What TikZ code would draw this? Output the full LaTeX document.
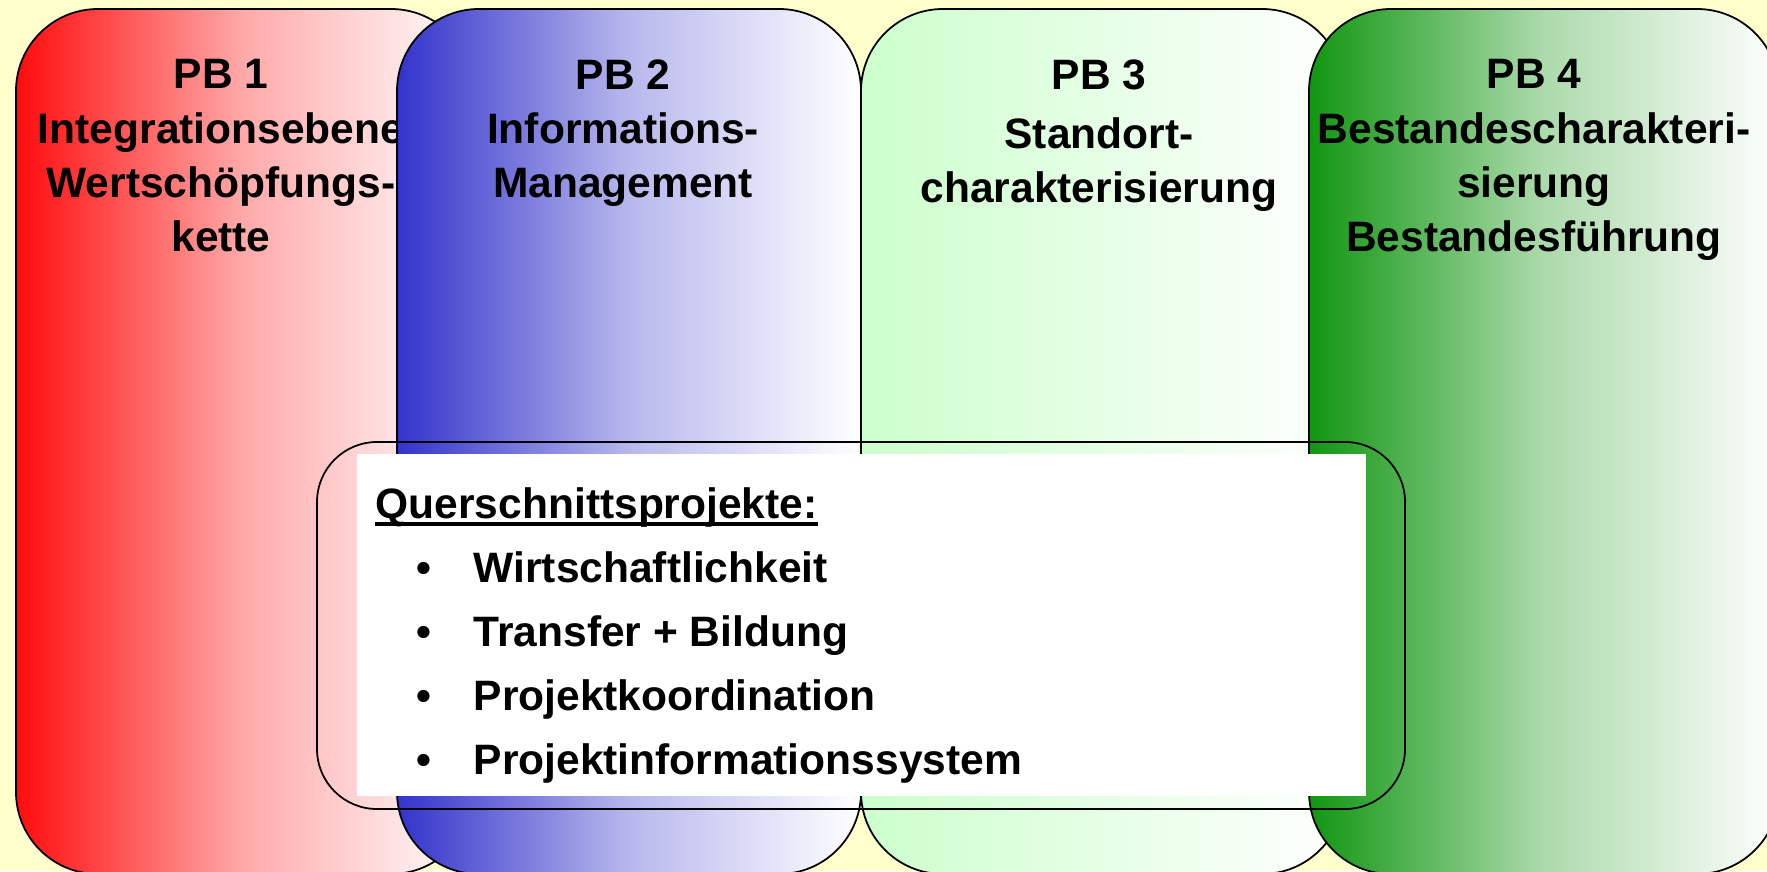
\documentclass[tikz,border=0pt]{standalone}
\usepackage{fontspec}
\setmainfont{Liberation Sans}
\usetikzlibrary{positioning}
\definecolor{bgyellow}{RGB}{255,255,204}
\definecolor{pbred}{RGB}{255,12,12}
\definecolor{pbblue}{RGB}{51,51,204}
\definecolor{pblight}{RGB}{204,255,204}
\definecolor{pbgreen}{RGB}{17,150,17}
\tikzset{
  pbbox/.style={draw=black,line width=.5pt,rounded corners=.82cm},
  pbtitle/.style={anchor=north,inner sep=0pt,align=center,font=\fontsize{12.1}{15.4}\selectfont\bfseries},
  qitem/.style={anchor=base west,inner sep=0pt,font=\fontsize{12.1}{15}\selectfont\bfseries}
}

\begin{document}
\begin{tikzpicture}
\useasboundingbox (0,0) rectangle (17.67,8.71);
\fill[bgyellow] (0,0) rectangle (17.67,8.71);
\clip (0,0) rectangle (17.67,8.71);
% the four project areas
\path[pbbox,left color=pbred,right color=white,middle color=pbred!35] (0.16,-0.03) rectangle (4.73,8.62);
\node[pbtitle] (pb1) at (2.21,8.12) {PB 1\\Integrationsebene\\Wertschöpfungs-\\kette};
\path[pbbox,left color=pbblue,right color=white,middle color=pbblue!35] (3.97,-0.03) rectangle (8.61,8.62);
\node[pbtitle] (pb2) at (6.23,8.12) {PB 2\\Informations-\\Management};
\path[pbbox,left color=pblight,right color=white,middle color=pblight!50] (8.61,-0.03) rectangle (13.44,8.62);
\node[pbtitle] (pb3) at (10.99,8.12) {PB 3\\[1.4pt]Standort-\\charakterisierung};
\path[pbbox,left color=pbgreen,right color=white,middle color=pbgreen!35] (13.09,-0.03) rectangle (17.79,8.62);
\node[pbtitle] (pb4) at (15.34,8.12) {PB 4\\Bestandescharakteri-\\sierung\\Bestandesführung};
% cross-section projects
\draw[line width=.5pt,rounded corners=.6cm] (3.17,0.62) rectangle (14.05,4.29);
\fill[white] (3.57,0.75) rectangle (13.66,4.17);
\node[qitem] (qhead) at (3.75,3.53) {Querschnittsprojekte:};
\draw[line width=1.1pt] ([yshift=-1.8pt]qhead.base west) -- ([yshift=-1.8pt]qhead.base east);
\node[qitem] (q1) at (4.73,2.89) {\llap{\textbullet\hspace{.42cm}}Wirtschaftlichkeit};
\node[qitem] (q2) at (4.73,2.25) {\llap{\textbullet\hspace{.42cm}}Transfer + Bildung};
\node[qitem] (q3) at (4.73,1.61) {\llap{\textbullet\hspace{.42cm}}Projektkoordination};
\node[qitem] (q4) at (4.73,0.97) {\llap{\textbullet\hspace{.42cm}}Projektinformationssystem};
\end{tikzpicture}
\end{document}
